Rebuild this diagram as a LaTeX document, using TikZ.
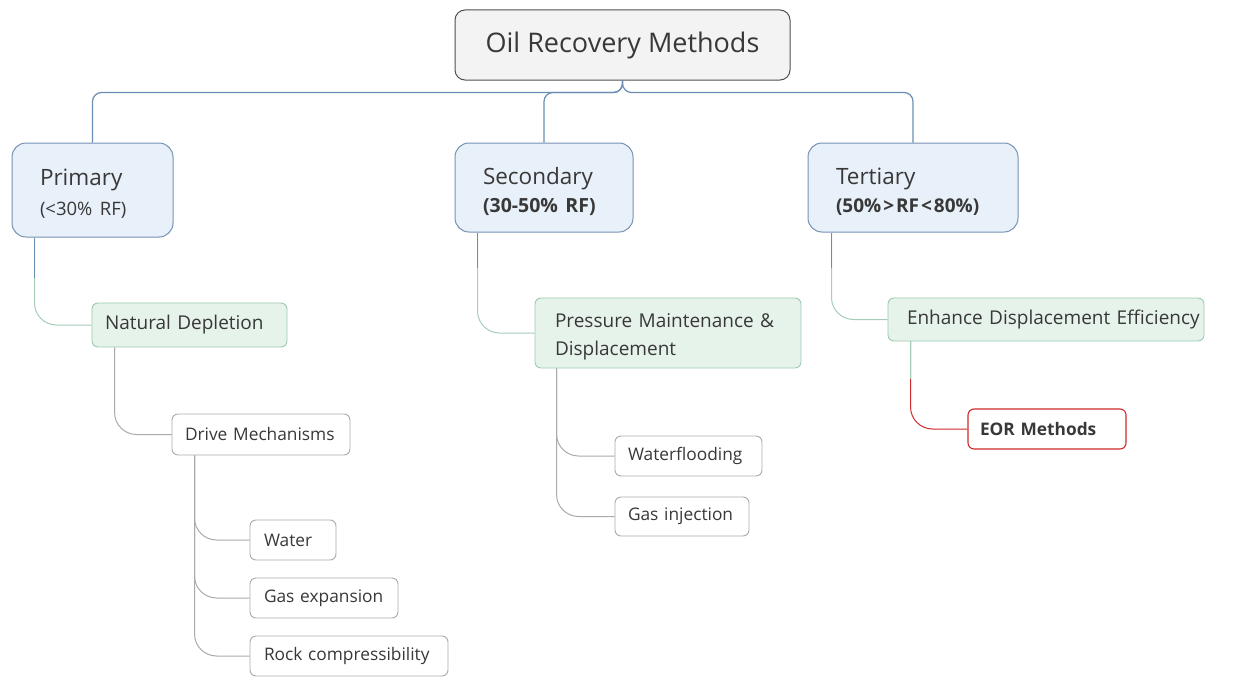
\documentclass[tikz,border=0pt]{standalone}
\usepackage{fontspec}
\setmainfont{Open Sans}
\usetikzlibrary{calc}

\definecolor{txt}{HTML}{383838}
\definecolor{rootfill}{HTML}{F3F3F3}
\definecolor{rootdraw}{HTML}{505050}
\definecolor{bluefill}{HTML}{E8F0F9}
\definecolor{bluedraw}{HTML}{7592B5}
\definecolor{blueline}{HTML}{6A8DB3}
\definecolor{greenfill}{HTML}{E6F3EB}
\definecolor{greendraw}{HTML}{9CCAB0}
\definecolor{greenline}{HTML}{A6CDB7}
\definecolor{grayline}{HTML}{AAAAAA}
\definecolor{redline}{HTML}{D02A2A}

% invisible struts that fix the first line's height and the last line's depth
\newcommand{\hstrut}[1]{\rule{0pt}{#1}}
\newcommand{\dstrut}[1]{\rule[-#1]{0pt}{#1}}

\tikzset{
  x=1pt, y=-1pt,
  every node/.style={text=txt, inner ysep=0pt},
  % a box of given width and height with left aligned text
  box/.style n args={3}{minimum width=#1, minimum height=#2,
    text width=#1-2*#3, inner xsep=#3, align=left},
  rootbox/.style={draw=rootdraw, fill=rootfill, line width=1pt, rounded corners=10pt,
    minimum width=335, minimum height=70, font=\fontsize{27}{32}\selectfont},
  mainbox/.style={draw=bluedraw, fill=bluefill, line width=1pt, rounded corners=14pt,
    font=\fontsize{22.5}{#1}\selectfont},
  subbox/.style={draw=greendraw, fill=greenfill, line width=0.9pt, rounded corners=6pt,
    font=\fontsize{19}{28}\selectfont},
  leafbox/.style={draw=grayline, fill=white, line width=0.9pt, rounded corners=6pt,
    font=\fontsize{17.3}{20}\selectfont},
  eorbox/.style={draw=redline, fill=white, line width=1.1pt, rounded corners=6pt,
    font=\fontsize{17.3}{20}\selectfont\bfseries},
  trunk/.style={draw=blueline, line width=1.2pt, rounded corners=9pt},
  limb/.style={draw=#1, line width=1pt, rounded corners=22pt},
  stub/.style={draw=#1, line width=1pt},
}

\newcommand{\rfline}[2]{{\fontsize{#1}{20}\selectfont #2}}

\begin{document}
\begin{tikzpicture}
\useasboundingbox (0,0) rectangle (1234,677);

% root and the three stages
\node[rootbox] (root) at (622.5,45) {Oil Recovery Methods};
\node[mainbox=30, box={161}{94}{28}] (primary) at (92.5,190)
  {\hstrut{28pt}Primary\\\rfline{18.5}{(<30\% RF)}\dstrut{7pt}};
\node[mainbox=28, box={178}{89}{28}] (secondary) at (544,187.5)
  {\hstrut{27pt}Secondary\\\rfline{19.5}{\bfseries (30-50\% RF)}\dstrut{6pt}};
\node[mainbox=28, box={210}{89}{28}] (tertiary) at (913,187.5)
  {\hstrut{27pt}Tertiary\\\rfline{19}{\bfseries (50\%\kern2pt>\kern2pt RF\kern2pt<\kern2pt 80\%)}\dstrut{6pt}};

% second level
\node[subbox, box={195}{44}{13}] (nd) at (189.5,325) {Natural Depletion};
\node[subbox, box={266}{70}{20}] (pmd) at (668,333)
  {\hstrut{21pt}Pressure Maintenance \&\\Displacement\dstrut{5pt}};
\node[subbox, box={316}{43}{19}] (ede) at (1046,319.5)
  {\mbox{Enhance Displacement Efficiency}\hss};

% third level
\node[leafbox, box={178}{41}{13}] (dm) at (261,434.5) {Drive Mechanisms};
\node[leafbox, box={86}{40}{14}] (water) at (293,540) {Water};
\node[leafbox, box={148}{40}{14}] (gasx) at (324,598) {Gas expansion};
\node[leafbox, box={198}{40}{14}] (rock) at (349,656) {Rock compressibility};
\node[leafbox, box={147}{40}{13}] (wf) at (688.5,456) {Waterflooding};
\node[leafbox, box={134}{39}{13}] (gi) at (682,516.5) {Gas injection};
\node[eorbox, box={158}{40}{12}] (eor) at (1047,429) {EOR Methods};

% root to stages
\path[trunk] (root.south) -- ++(0,12) -| (primary.north);
\path[trunk] (root.south) -- ++(0,12) -| (secondary.north);
\path[trunk] (root.south) -- ++(0,12) -| (tertiary.north);

% stages to second level
\coordinate (p0) at ($(primary.south west)+(23,0)$);
\coordinate (s0) at ($(secondary.south west)+(23,0)$);
\coordinate (t0) at ($(tertiary.south west)+(24,0)$);
\path[limb=greenline] (p0) |- (nd.west);
\path[limb=greenline] (s0) |- (pmd.west);
\path[limb=greenline] (t0) |- (ede.west);
\path[stub=blueline] (p0) -- ++(0,40);
\path[stub=blueline] (s0) -- ++(0,35);
\path[stub=blueline] (t0) -- ++(0,35);

% second level to leaves
\coordinate (n0) at ($(nd.south west)+(23,0)$);
\path[limb=grayline] (n0) |- (dm.west);
\coordinate (d0) at ($(dm.south west)+(23,0)$);
\path[limb=grayline] (d0) |- (water.west);
\path[limb=grayline] (d0) |- (gasx.west);
\path[limb=grayline] (d0) |- (rock.west);
\coordinate (m0) at ($(pmd.south west)+(22,0)$);
\path[limb=grayline] (m0) |- (wf.west);
\path[limb=grayline] (m0) |- (gi.west);
\coordinate (e0) at ($(ede.south west)+(23,0)$);
\path[limb=redline] (e0) |- (eor.west);
\path[stub=greenline] (e0) -- ++(0,38);
\end{tikzpicture}
\end{document}
